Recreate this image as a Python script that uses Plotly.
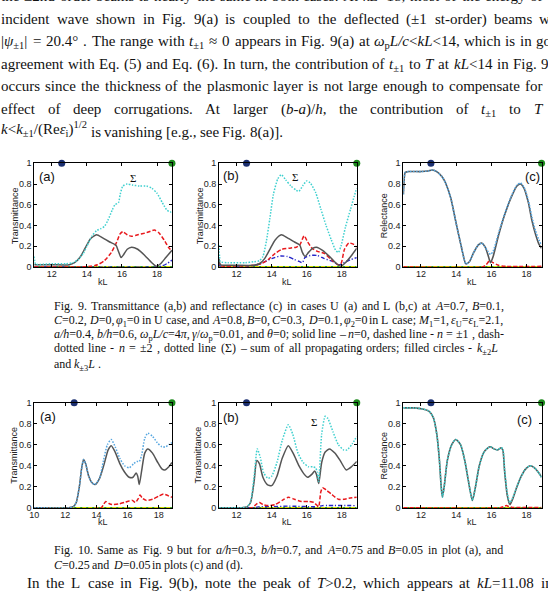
import math, re
import plotly.graph_objects as go

W, H = 548, 592

# ---------------- data ----------------
circle_kl = [4 * math.pi, 6 * math.pi]   # k(+-2)L, k(+-3)L
circle_val = [1.0, 1.0]

# Fig. 9(a)  U case transmittance
kl_9a_sum = [11.0, 11.03, 11.08, 11.5, 12.0, 12.8, 13.2, 13.5, 13.8, 14.0, 14.3, 14.55, 14.8, 15.0, 15.2, 15.45, 15.6, 15.8, 15.9, 16.05, 16.3, 16.6, 17.0, 17.4, 17.7, 18.0, 18.3, 18.55, 18.75, 18.85]
t_9a_sum = [0.10, 0.05, 0.025, 0.025, 0.03, 0.03, 0.04, 0.07, 0.13, 0.20, 0.30, 0.35, 0.37, 0.39, 0.45, 0.55, 0.60, 0.62, 0.70, 0.78, 0.80, 0.79, 0.78, 0.78, 0.76, 0.71, 0.62, 0.55, 0.53, 0.54]
kl_9a_n0 = [11.0, 11.5, 12.0, 13.0, 13.3, 13.6, 13.9, 14.2, 14.55, 14.9, 15.3, 15.65, 15.8, 15.95, 16.1, 16.3, 16.55, 16.9, 17.3, 17.7, 17.96, 18.2, 18.5, 18.85]
t_9a_n0 = [0.02, 0.02, 0.02, 0.02, 0.04, 0.09, 0.18, 0.27, 0.31, 0.28, 0.24, 0.21, 0.15, 0.09, 0.12, 0.17, 0.19, 0.17, 0.11, 0.04, 0.005, 0.03, 0.09, 0.16]
kl_9a_n1 = [11.0, 13.8, 14.2, 14.6, 15.0, 15.4, 15.7, 15.9, 16.05, 16.3, 16.55, 16.9, 17.4, 17.85, 18.1, 18.4, 18.65, 18.85]
t_9a_n1 = [0.0, 0.0, 0.005, 0.02, 0.06, 0.14, 0.24, 0.32, 0.34, 0.31, 0.295, 0.31, 0.33, 0.355, 0.33, 0.26, 0.19, 0.15]
kl_9a_n2 = [11.0, 18.0, 18.3, 18.6, 18.85]
t_9a_n2 = [0.0, 0.0, 0.01, 0.035, 0.065]

# Fig. 9(b)  L case transmittance
kl_9b_sum = [11.0, 11.03, 11.08, 11.5, 12.5, 13.0, 13.3, 13.5, 13.7, 13.9, 14.1, 14.35, 14.55, 14.8, 15.1, 15.4, 15.55, 15.8, 16.0, 16.2, 16.5, 16.8, 17.1, 17.4, 17.65, 17.8, 17.95, 18.2, 18.5, 18.7, 18.85]
t_9b_sum = [0.21, 0.10, 0.05, 0.04, 0.04, 0.05, 0.06, 0.10, 0.25, 0.47, 0.70, 0.85, 0.89, 0.84, 0.78, 0.74, 0.73, 0.79, 0.83, 0.81, 0.72, 0.56, 0.40, 0.26, 0.16, 0.14, 0.20, 0.38, 0.56, 0.68, 0.76]
kl_9b_n0 = [11.0, 11.03, 11.1, 12.0, 13.0, 13.3, 13.6, 13.9, 14.2, 14.55, 14.9, 15.3, 15.6, 15.75, 15.9, 16.1, 16.35, 16.55, 16.9, 17.3, 17.7, 17.95, 18.2, 18.55, 18.85]
t_9b_n0 = [0.08, 0.04, 0.02, 0.015, 0.015, 0.03, 0.08, 0.17, 0.26, 0.31, 0.28, 0.24, 0.21, 0.14, 0.10, 0.14, 0.18, 0.19, 0.16, 0.10, 0.03, 0.005, 0.04, 0.11, 0.18]
kl_9b_n1 = [11.0, 11.04, 11.1, 12.5, 13.0, 13.4, 13.8, 14.2, 14.6, 15.0, 15.4, 15.6, 15.85, 16.05, 16.3, 16.6, 17.0, 17.4, 17.8, 17.95, 18.15, 18.4, 18.65, 18.85]
t_9b_n1 = [0.06, 0.02, 0.01, 0.01, 0.015, 0.03, 0.07, 0.13, 0.17, 0.18, 0.19, 0.21, 0.30, 0.24, 0.18, 0.15, 0.13, 0.07, 0.02, 0.03, 0.17, 0.23, 0.22, 0.19]
kl_9b_n2 = [11.0, 11.05, 12.5, 13.0, 13.5, 14.0, 14.5, 14.9, 15.3, 15.6, 15.75, 15.9, 16.2, 16.6, 17.0, 17.5, 17.85, 18.1, 18.5, 18.85]
t_9b_n2 = [0.03, 0.01, 0.01, 0.015, 0.04, 0.08, 0.105, 0.10, 0.07, 0.05, 0.04, 0.09, 0.11, 0.11, 0.08, 0.05, 0.02, 0.04, 0.07, 0.09]

# Fig. 9(c)  L case reflectance
kl_9c_n0 = [11.0, 11.05, 11.1, 11.3, 12.0, 12.4, 12.65, 12.9, 13.2, 13.4, 13.7, 14.0, 14.3, 14.55, 14.75, 15.0, 15.25, 15.45, 15.65, 15.8, 15.95, 16.1, 16.4, 16.75, 17.1, 17.45, 17.65, 17.85, 18.1, 18.3, 18.5, 18.7, 18.85]
r_9c_n0 = [0.70, 0.85, 0.91, 0.92, 0.92, 0.925, 0.935, 0.92, 0.87, 0.81, 0.66, 0.42, 0.19, 0.03, 0.05, 0.14, 0.21, 0.23, 0.19, 0.12, 0.04, 0.10, 0.30, 0.50, 0.66, 0.78, 0.80, 0.76, 0.62, 0.45, 0.32, 0.22, 0.18]
kl_9c_sum = [11.0, 11.05, 11.1, 11.3, 12.0, 12.4, 12.65, 12.9, 13.2, 13.4, 13.7, 14.0, 14.3, 14.55, 14.75, 15.0, 15.25, 15.45, 15.65, 15.8, 15.95, 16.1, 16.4, 16.75, 17.1, 17.45, 17.65, 17.85, 18.1, 18.3, 18.5, 18.7, 18.85]
r_9c_sum = [0.70, 0.85, 0.91, 0.92, 0.92, 0.925, 0.935, 0.92, 0.87, 0.81, 0.66, 0.42, 0.19, 0.03, 0.05, 0.14, 0.21, 0.23, 0.19, 0.15, 0.12, 0.15, 0.32, 0.51, 0.67, 0.79, 0.81, 0.77, 0.64, 0.48, 0.35, 0.26, 0.21]
kl_9c_n1 = [11.0, 15.5, 15.7, 15.9, 16.1, 16.4, 16.8, 18.85]
r_9c_n1 = [0.0, 0.0, 0.02, 0.06, 0.04, 0.015, 0.005, 0.005]

# Fig. 10(a)
kl_10a_n0 = [10.0, 12.2, 12.5, 12.7, 12.9, 13.05, 13.17, 13.3, 13.5, 13.7, 13.9, 14.2, 14.5, 14.75, 14.95, 15.2, 15.5, 15.8, 16.1, 16.35, 16.55, 16.65, 16.75, 16.9, 17.1, 17.3, 17.6, 17.9, 18.2, 18.4, 18.65, 18.85]
t_10a_n0 = [0.0, 0.0, 0.01, 0.05, 0.20, 0.38, 0.46, 0.42, 0.30, 0.24, 0.22, 0.28, 0.42, 0.55, 0.59, 0.53, 0.42, 0.34, 0.29, 0.29, 0.33, 0.30, 0.22, 0.35, 0.52, 0.56, 0.52, 0.44, 0.37, 0.36, 0.39, 0.43]
kl_10a_sum = [10.0, 12.2, 12.5, 12.7, 12.9, 13.05, 13.17, 13.3, 13.5, 13.7, 13.9, 14.2, 14.45, 14.7, 14.95, 15.2, 15.5, 15.8, 16.1, 16.4, 16.6, 16.75, 16.9, 17.1, 17.3, 17.6, 17.9, 18.2, 18.45, 18.65, 18.85]
t_10a_sum = [0.0, 0.0, 0.01, 0.05, 0.20, 0.38, 0.46, 0.42, 0.30, 0.24, 0.22, 0.28, 0.45, 0.60, 0.65, 0.58, 0.47, 0.40, 0.38, 0.42, 0.44, 0.44, 0.50, 0.66, 0.71, 0.68, 0.62, 0.58, 0.58, 0.60, 0.62]
kl_10a_n1 = [10.0, 14.3, 14.45, 14.6, 14.8, 15.0, 15.4, 15.8, 16.1, 16.3, 16.5, 16.7, 16.8, 16.95, 17.2, 17.6, 18.0, 18.3, 18.6, 18.85]
t_10a_n1 = [0.0, 0.0, 0.03, 0.06, 0.04, 0.03, 0.035, 0.05, 0.065, 0.07, 0.05, 0.09, 0.12, 0.09, 0.07, 0.08, 0.11, 0.13, 0.115, 0.10]

# Fig. 10(b)
kl_10b_n0 = [11.0, 12.3, 12.6, 12.8, 13.0, 13.15, 13.3, 13.5, 13.75, 14.0, 14.3, 14.6, 14.95, 15.25, 15.55, 15.85, 16.05, 16.3, 16.45, 16.55, 16.68, 16.85, 17.05, 17.3, 17.6, 17.9, 18.25, 18.55, 18.85]
t_10b_n0 = [0.0, 0.0, 0.01, 0.05, 0.25, 0.45, 0.42, 0.29, 0.22, 0.21, 0.30, 0.47, 0.59, 0.51, 0.40, 0.32, 0.29, 0.32, 0.35, 0.32, 0.23, 0.43, 0.53, 0.56, 0.52, 0.45, 0.36, 0.39, 0.44]
kl_10b_sum = [11.0, 12.3, 12.6, 12.8, 13.0, 13.18, 13.35, 13.55, 13.8, 14.0, 14.3, 14.6, 14.95, 15.2, 15.5, 15.8, 16.1, 16.35, 16.5, 16.6, 16.68, 16.85, 17.05, 17.2, 17.5, 17.8, 18.1, 18.3, 18.6, 18.85]
t_10b_sum = [0.0, 0.0, 0.01, 0.06, 0.30, 0.56, 0.48, 0.33, 0.28, 0.30, 0.43, 0.64, 0.79, 0.70, 0.52, 0.43, 0.39, 0.39, 0.38, 0.34, 0.25, 0.70, 0.87, 0.85, 0.72, 0.60, 0.55, 0.55, 0.61, 0.68]
kl_10b_n1 = [11.0, 12.9, 13.1, 13.3, 13.5, 13.8, 14.2, 14.6, 14.95, 15.3, 15.7, 16.1, 16.4, 16.6, 16.68, 16.8, 16.9, 17.1, 17.4, 17.8, 18.1, 18.4, 18.85]
t_10b_n1 = [0.0, 0.0, 0.03, 0.05, 0.03, 0.02, 0.03, 0.07, 0.10, 0.08, 0.06, 0.06, 0.05, 0.02, 0.01, 0.15, 0.19, 0.17, 0.13, 0.08, 0.08, 0.09, 0.10]
kl_10b_n2 = [11.0, 13.0, 13.3, 14.0, 15.0, 16.6, 16.9, 18.85]
t_10b_n2 = [0.0, 0.0, 0.01, 0.01, 0.015, 0.01, 0.02, 0.02]

# Fig. 10(c)
kl_10c_n0 = [11.0, 11.6, 12.1, 12.45, 12.7, 12.9, 13.05, 13.15, 13.22, 13.32, 13.5, 13.75, 13.98, 14.25, 14.5, 14.7, 14.92, 15.1, 15.3, 15.55, 15.8, 15.95, 16.15, 16.35, 16.55, 16.65, 16.75, 16.9, 17.05, 17.2, 17.45, 17.7, 17.95, 18.2, 18.45, 18.7, 18.85]
r_10c_n0 = [0.95, 0.95, 0.94, 0.92, 0.86, 0.70, 0.45, 0.20, 0.10, 0.20, 0.45, 0.60, 0.65, 0.60, 0.44, 0.25, 0.07, 0.20, 0.39, 0.52, 0.57, 0.58, 0.56, 0.55, 0.57, 0.55, 0.35, 0.12, 0.03, 0.08, 0.20, 0.30, 0.37, 0.40, 0.38, 0.33, 0.29]
kl_10c_sum = [11.0, 11.6, 12.1, 12.45, 12.7, 12.9, 13.05, 13.15, 13.22, 13.32, 13.5, 13.75, 13.98, 14.25, 14.5, 14.7, 14.92, 15.1, 15.3, 15.55, 15.8, 15.95, 16.15, 16.35, 16.55, 16.65, 16.75, 16.9, 17.05, 17.2, 17.45, 17.7, 17.95, 18.2, 18.45, 18.7, 18.85]
r_10c_sum = [0.95, 0.95, 0.94, 0.92, 0.86, 0.70, 0.45, 0.20, 0.10, 0.20, 0.45, 0.60, 0.65, 0.60, 0.44, 0.25, 0.07, 0.20, 0.39, 0.52, 0.57, 0.58, 0.56, 0.55, 0.57, 0.56, 0.37, 0.14, 0.05, 0.09, 0.20, 0.30, 0.37, 0.40, 0.38, 0.33, 0.29]
kl_10c_n1 = [11.0, 16.5, 16.7, 16.85, 17.0, 17.2, 18.85]
r_10c_n1 = [0.0, 0.0, 0.01, 0.02, 0.01, 0.003, 0.003]

# higher orders lying on zero
kl_zero_11 = [11.0, 18.85]
kl_zero_10 = [10.0, 18.85]
v_zero = [0.0, 0.0]

y_ticks = [0, 0.2, 0.4, 0.6, 0.8, 1]
y_ticktext = ['0', '0.2', '0.4', '0.6', '0.8', '1']
x_ticks = [12, 14, 16, 18]
x_ticks_10a = [10, 12, 14, 16, 18]

# ---------------- styles ----------------
GRAY = '#555555'
RED = '#e8191d'
BLUE = '#2626c8'
CYAN = '#3fd0cf'
LBLUE = '#55a6e0'
YEL = '#d2d600'
GRN = '#2aa22a'
S_DOT = '1.5px,1.5px'
S_DASH = '4px,2px'
S_DDOT = '4px,2px,1.2px,2px'

fig = go.Figure()

cols = {'a': (29.5, 168.5), 'b': (216.0, 355.0), 'c': (402.0, 541.5)}
rows = {9: (161.0, 267.0), 10: (404.5, 512.0)}

panels = [
    (9, 'a', 11.0, [
        (kl_zero_11, v_zero, GRN, None, 1.5), (kl_zero_11, v_zero, YEL, S_DASH, 1.5),
        (kl_9a_n2, t_9a_n2, BLUE, S_DDOT, 1.4), (kl_9a_n1, t_9a_n1, RED, S_DASH, 1.5),
        (kl_9a_n0, t_9a_n0, GRAY, None, 1.5), (kl_9a_sum, t_9a_sum, CYAN, S_DOT, 1.5)]),
    (9, 'b', 11.0, [
        (kl_zero_11, v_zero, GRN, None, 1.5), (kl_zero_11, v_zero, YEL, S_DASH, 1.5),
        (kl_9b_n2, t_9b_n2, BLUE, S_DDOT, 1.4), (kl_9b_n1, t_9b_n1, RED, S_DASH, 1.5),
        (kl_9b_n0, t_9b_n0, GRAY, None, 1.5), (kl_9b_sum, t_9b_sum, CYAN, S_DOT, 1.5)]),
    (9, 'c', 11.0, [
        (kl_zero_11, v_zero, GRN, None, 1.5), (kl_zero_11, v_zero, YEL, S_DASH, 1.5),
        (kl_9c_n1, r_9c_n1, RED, S_DASH, 1.5),
        (kl_9c_n0, r_9c_n0, GRAY, None, 1.6), (kl_9c_sum, r_9c_sum, LBLUE, S_DOT, 1.6)]),
    (10, 'a', 10.0, [
        (kl_zero_10, v_zero, GRN, None, 1.5), (kl_zero_10, v_zero, YEL, S_DASH, 1.5),
        (kl_10a_n1, t_10a_n1, RED, S_DASH, 1.5),
        (kl_10a_n0, t_10a_n0, GRAY, None, 1.5), (kl_10a_sum, t_10a_sum, LBLUE, S_DOT, 1.5)]),
    (10, 'b', 11.0, [
        (kl_zero_11, v_zero, GRN, None, 1.5), (kl_zero_11, v_zero, YEL, S_DASH, 1.5),
        (kl_10b_n2, t_10b_n2, BLUE, S_DDOT, 1.4), (kl_10b_n1, t_10b_n1, RED, S_DASH, 1.5),
        (kl_10b_n0, t_10b_n0, GRAY, None, 1.5), (kl_10b_sum, t_10b_sum, CYAN, S_DOT, 1.5)]),
    (10, 'c', 11.0, [
        (kl_zero_11, v_zero, GRN, None, 1.5), (kl_zero_11, v_zero, YEL, S_DASH, 1.5),
        (kl_10c_n1, r_10c_n1, RED, S_DASH, 1.5),
        (kl_10c_n0, r_10c_n0, GRAY, None, 1.6), (kl_10c_sum, r_10c_sum, CYAN, S_DOT, 1.6)]),
]

AXFONT = dict(family='Liberation Sans, Arial, sans-serif', size=9, color='#222')
layout = dict(width=W, height=H, margin=dict(l=0, r=0, t=0, b=0), showlegend=False,
              paper_bgcolor='white', plot_bgcolor='white')
annotations = []

for i, (row, col, xmin, traces) in enumerate(panels, start=1):
    xl, xr = cols[col]
    yt, yb = rows[row]
    xa = 'x' if i == 1 else 'x%d' % i
    ya = 'y' if i == 1 else 'y%d' % i
    for (xs, ys, color, dash, width) in traces:
        fig.add_trace(go.Scatter(x=xs, y=ys, xaxis=xa, yaxis=ya, mode='lines',
                                 line=dict(color=color, width=width, dash=dash or 'solid',
                                           shape='spline', smoothing=0.6),
                                 hoverinfo='skip'))
    fig.add_trace(go.Scatter(x=circle_kl, y=circle_val, xaxis=xa, yaxis=ya, mode='markers',
                             marker=dict(size=7, color=['#1b2f70', '#1d8a1d']),
                             cliponaxis=False, hoverinfo='skip'))
    xt = x_ticks_10a if xmin == 10.0 else x_ticks
    layout['xaxis' if i == 1 else 'xaxis%d' % i] = dict(
        domain=[xl / W, xr / W], range=[xmin, 6 * math.pi], anchor=ya,
        tickvals=xt, ticktext=[str(v) for v in xt], ticks='inside', ticklen=3,
        tickcolor='black', showline=True, linecolor='black', linewidth=1, mirror='ticks',
        showgrid=False, zeroline=False, tickfont=AXFONT, fixedrange=True,
        ticklabelstandoff=-2)
    layout['yaxis' if i == 1 else 'yaxis%d' % i] = dict(
        domain=[1 - yb / H, 1 - yt / H], range=[-0.006, 1.0], anchor=xa,
        tickvals=y_ticks, ticktext=y_ticktext, ticks='inside', ticklen=3,
        tickcolor='black', showline=True, linecolor='black', linewidth=1, mirror='ticks',
        showgrid=False, zeroline=False, tickfont=AXFONT, fixedrange=True)

# panel labels
def data_ann(i, x, y, text, size, family='Liberation Sans, Arial, sans-serif'):
    xa = 'x' if i == 1 else 'x%d' % i
    ya = 'y' if i == 1 else 'y%d' % i
    annotations.append(dict(x=x, y=y, xref=xa, yref=ya, text=text, showarrow=False,
                            xanchor='center', yanchor='middle',
                            font=dict(family=family, size=size, color='#111')))

data_ann(1, 11.72, 0.87, '(a)', 13)
data_ann(2, 11.67, 0.88, '(b)', 13)
data_ann(3, 18.35, 0.87, '(c)', 13)
data_ann(4, 10.9, 0.87, '(a)', 13)
data_ann(5, 11.67, 0.86, '(b)', 13)
data_ann(6, 17.88, 0.835, '(c)', 13)
data_ann(1, 16.62, 0.86, 'Σ', 11, 'Liberation Serif, serif')
data_ann(2, 15.33, 0.87, 'Σ', 11, 'Liberation Serif, serif')
data_ann(5, 16.39, 0.815, 'Σ', 11, 'Liberation Serif, serif')

def pix_ann(x, y, text, size, angle=0, family='Liberation Sans, Arial, sans-serif'):
    annotations.append(dict(x=x / W, y=1 - y / H, xref='paper', yref='paper', text=text,
                            showarrow=False, xanchor='center', yanchor='middle', textangle=angle,
                            font=dict(family=family, size=size, color='#222')))

for (x, y, t) in [(10, 214, 'Transmittance'), (196.7, 214, 'Transmittance'), (383.3, 214, 'Relectance'),
                  (9.5, 458, 'Transmittance'), (195, 458, 'Transmittance'), (382.7, 458, 'Reflectance')]:
    pix_ann(x, y, t, 9, -90)
for (x, y) in [(98.5, 282), (285, 282), (471.7, 282), (98.5, 526), (285, 526), (471.7, 526)]:
    pix_ann(x, y, 'kL', 9)

# ---------------- justified page text ----------------
TW = {' ': 250, 'a': 444, 'b': 500, 'c': 444, 'd': 500, 'e': 444, 'f': 333, 'g': 500, 'h': 500,
      'i': 278, 'j': 278, 'k': 500, 'l': 278, 'm': 778, 'n': 500, 'o': 500, 'p': 500, 'q': 500,
      'r': 333, 's': 389, 't': 278, 'u': 500, 'v': 500, 'w': 722, 'x': 500, 'y': 500, 'z': 444,
      'A': 722, 'B': 667, 'C': 667, 'D': 722, 'E': 611, 'F': 556, 'G': 722, 'H': 722, 'I': 333,
      'J': 389, 'K': 722, 'L': 611, 'M': 889, 'N': 722, 'O': 722, 'P': 556, 'Q': 722, 'R': 667,
      'S': 556, 'T': 611, 'U': 722, 'V': 722, 'W': 944, 'X': 722, 'Y': 722, 'Z': 611,
      '.': 250, ',': 250, '(': 333, ')': 333, '-': 333, '=': 564, '<': 564, '>': 564, '/': 278,
      '±': 564, '°': 400, ':': 278, ';': 278, '[': 333, ']': 333, '|': 200, '≈': 549, '–': 500,
      'Σ': 592, 'ψ': 686, 'ε': 439, 'ω': 686, 'φ': 521, 'γ': 411, 'θ': 521, 'π': 549}
for d in '0123456789':
    TW[d] = 500
TWI = {'A': 611, 'B': 611, 'C': 667, 'D': 722, 'L': 556, 'M': 833, 'T': 556, 'k': 444, 'a': 500}

def text_w(html, size):
    tot = 0.0
    scale = 1.0
    ital = False
    for part in re.split(r'(</?(?:sub|sup|i)>)', html):
        if part in ('<sub>', '<sup>'):
            scale = 0.7
        elif part in ('</sub>', '</sup>'):
            scale = 1.0
        elif part == '<i>':
            ital = True
        elif part == '</i>':
            ital = False
        else:
            t = part.replace('&lt;', '<').replace('&gt;', '>')
            for ch in t:
                wv = TWI.get(ch, TW.get(ch, 500)) if ital else TW.get(ch, 500)
                tot += wv * scale
    return tot * size / 1000.0

def place_line(text, x0, x1, yc, size, justify=True):
    words = text.split(' ')
    ws = [text_w(w, size) for w in words]
    if justify and len(words) > 1:
        gap = max((x1 - x0 - sum(ws)) / (len(words) - 1), 0.2 * size)
    else:
        gap = 0.25 * size
    x = x0
    top = yc - 0.66 * size - 2
    for w, wd in zip(words, ws):
        dy = 0
        if '<sup>' in w:
            dy = -0.3 * size
        annotations.append(dict(x=(x - 2) / W, y=1 - (top + dy) / H, xref='paper', yref='paper',
                                xanchor='left', yanchor='top', text=w, showarrow=False,
                                font=dict(family='Liberation Serif, Times New Roman, serif',
                                          size=size, color='#111')))
        x += wd + gap

BODY = 15
BX0, BX1 = -4, 566
body_lines = [
    ("the ±2nd order beams is nearly the same in both cases. At <i>kL</i>=18, most of the energy of the", -7.5, True),
    ("incident wave shown in Fig. 9(a) is coupled to the deflected (±1 st-order) beams with", 15.5, True),
    ("|<i>ψ</i><sub>±1</sub>| = 20.4° . The range with <i>t</i><sub>±1</sub> ≈ 0 appears in Fig. 9(a) at <i>ω</i><sub>p</sub><i>L/c</i>&lt;<i>kL</i>&lt;14, which is in good", 38.5, True),
    ("agreement with Eq. (5) and Eq. (6). In turn, the contribution of <i>t</i><sub>±1</sub> to <i>T</i> at <i>kL</i>&lt;14 in Fig. 9(b)", 61.5, True),
    ("occurs since the thickness of the plasmonic layer is not large enough to compensate for the", 84.5, True),
    ("effect of deep corrugations. At larger (<i>b-a</i>)/<i>h</i>, the contribution of <i>t</i><sub>±1</sub> to <i>T</i> at", 107.5, True),
    ("<i>k</i>&lt;<i>k</i><sub>±1</sub>/(Re<i>ε</i><sub>i</sub>)<sup>1/2</sup> is vanishing [e.g., see Fig. 8(a)].", 130.5, False),
]
for t, y, j in body_lines:
    place_line(t, BX0, BX1, y, BODY, j)

CAP = 12
CX0, CX1 = 49.5, 503
cap_lines = [
    ("Fig. 9. Transmittance (a,b) and reflectance (c) in cases U (a) and L (b,c) at <i>A</i>=0.7, <i>B</i>=0.1,", 306.5, True, CX1),
    ("<i>C</i>=0.2, <i>D</i>=0, <i>φ</i><sub>1</sub>=0 in U case, and <i>A</i>=0.8, <i>B</i>=0, <i>C</i>=0.3, <i>D</i>=0.1, <i>φ</i><sub>2</sub>=0 in L case; <i>M</i><sub>1</sub>=1, <i>ε</i><sub>U</sub>=<i>ε</i><sub>L</sub>=2.1,", 321, True, CX1),
    ("<i>a/h</i>=0.4, <i>b/h</i>=0.6, <i>ω</i><sub>p</sub><i>L/c</i>=4<i>π</i>, <i>γ</i>/<i>ω</i><sub>p</sub>=0.01, and <i>θ</i>=0; solid line – <i>n</i>=0, dashed line - <i>n</i> = ±1 , dash-", 335.5, True, CX1),
    ("dotted line - <i>n</i> = ±2 , dotted line (Σ) – sum of all propagating orders; filled circles - <i>k</i><sub>±2</sub><i>L</i>", 350, True, 497),
    ("and <i>k</i><sub>±3</sub><i>L</i> .", 366, False, CX1),
    ("Fig. 10. Same as Fig. 9 but for <i>a/h</i>=0.3, <i>b/h</i>=0.7, and <i>A</i>=0.75 and <i>B</i>=0.05 in plot (a), and", 555.5, True, CX1),
    ("<i>C</i>=0.25 and <i>D</i>=0.05 in plots (c) and (d).", 570, False, CX1),
]
for t, y, j, x1 in cap_lines:
    place_line(t, CX0, x1, y, CAP, j)

place_line("In the L case in Fig. 9(b), note the peak of <i>T</i>&gt;0.2, which appears at <i>kL</i>=11.08 in a", 22, BX1, 590, BODY, True)

layout['annotations'] = annotations
fig.update_layout(**layout)
fig.write_html("out.html")
